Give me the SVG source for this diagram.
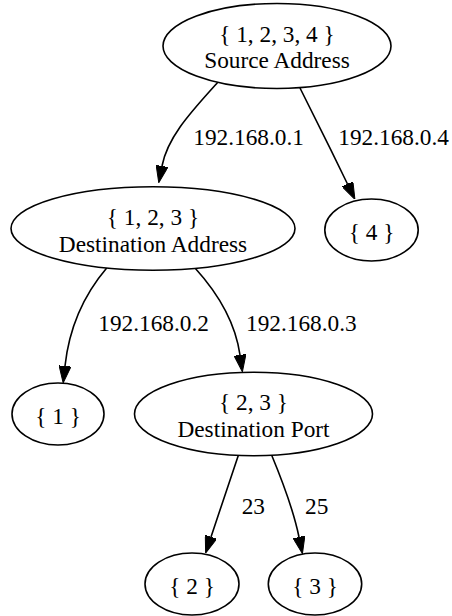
<svg xmlns="http://www.w3.org/2000/svg" width="452" height="616" viewBox="0 0 452 616">
<style>
.n ellipse{fill:#fff;stroke:#000;stroke-width:1.6}
text{font-family:"Liberation Serif","Times New Roman",serif;font-size:23.3px;fill:#000}
.n text{text-anchor:middle}
.e path{fill:none;stroke:#000;stroke-width:1.6;marker-end:url(#ah)}
</style>
<defs>
<marker id="ah" viewBox="0 0 17 12" refX="0" refY="6" markerWidth="17" markerHeight="12" markerUnits="userSpaceOnUse" orient="auto">
<path d="M0,0 L17,6 L0,12 Z" fill="#000" stroke="#000" stroke-width="1"/>
</marker>
</defs>
<rect width="452" height="616" fill="#fff"/>
<g id="edges" class="e">
<path d="M218,82 C195,108 168,135 162,166"/>
<path d="M300,88 C315,118 332,152 347.5,184"/>
<path d="M106.7,268 C88,290 70,320 65,366"/>
<path d="M195,268 C215,290 235,320 240,355"/>
<path d="M238.3,455.4 C230,480 220,510 211,537"/>
<path d="M271.7,455.2 C282,480 293,508 299,537"/>
<text x="193.3" y="145">192.168.0.1</text>
<text x="338.3" y="145">192.168.0.4</text>
<text x="98.3" y="331">192.168.0.2</text>
<text x="246" y="331">192.168.0.3</text>
<text x="241.7" y="514">23</text>
<text x="305" y="514">25</text>
</g>
<g id="source" class="n">
<ellipse cx="277" cy="46" rx="114" ry="42.5"/>
<text x="277" y="41.75">{ 1, 2, 3, 4 }</text>
<text x="277" y="68.25">Source Address</text>
</g>
<g id="dest_addr" class="n">
<ellipse cx="153" cy="228.5" rx="142" ry="41.7"/>
<text x="153" y="225">{ 1, 2, 3 }</text>
<text x="153" y="251.5">Destination Address</text>
</g>
<g id="n4" class="n">
<ellipse cx="371.5" cy="230" rx="46.7" ry="31"/>
<text x="371.5" y="239.5">{ 4 }</text>
</g>
<g id="n1" class="n">
<ellipse cx="58" cy="414" rx="46" ry="31"/>
<text x="58" y="423.5">{ 1 }</text>
</g>
<g id="dest_port" class="n">
<ellipse cx="253.5" cy="414" rx="119" ry="41.7"/>
<text x="253.5" y="410">{ 2, 3 }</text>
<text x="253.5" y="436.5">Destination Port</text>
</g>
<g id="n2" class="n">
<ellipse cx="192" cy="584" rx="47" ry="31"/>
<text x="192" y="593.5">{ 2 }</text>
</g>
<g id="n3" class="n">
<ellipse cx="315" cy="584" rx="46.7" ry="31"/>
<text x="315" y="593.5">{ 3 }</text>
</g>
</svg>
